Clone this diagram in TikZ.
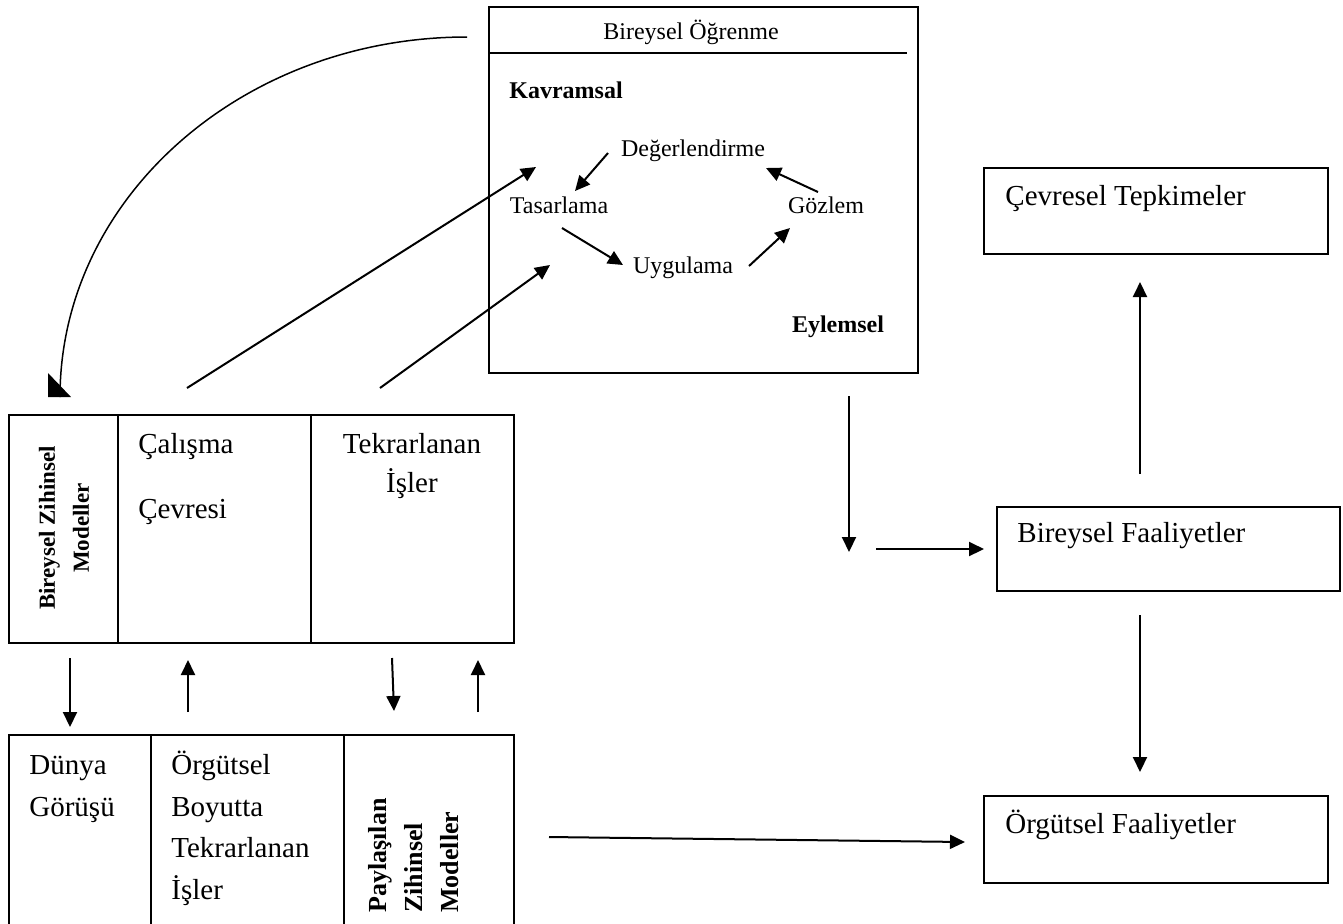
\documentclass[tikz,border=0pt]{standalone}
\usepackage{fontspec}
\setmainfont{Liberation Serif}
\usetikzlibrary{arrows.meta}
\begin{document}
\begin{tikzpicture}[x=0.5pt,y=-0.5pt,
  box/.style={draw,line width=1pt,inner sep=0pt,anchor=north west},
  big/.style={font=\fontsize{14.5}{18}\selectfont,inner sep=0pt},
  small/.style={font=\fontsize{12}{15}\selectfont,inner sep=0pt},
  bsmall/.style={font=\fontsize{12}{15}\selectfont\bfseries,inner sep=0pt},
  arr/.style={line width=1pt,-{Triangle[length=7.5pt,width=7pt]}},
]
\useasboundingbox (0,0) rectangle (1343,923);

% ---------- Bireysel Ogrenme box ----------
\node[box,minimum width=214.5pt,minimum height=183pt] (learn) at (488,6) {};
\coordinate (divL) at (488,53);
\coordinate (divR) at (907,53);
\draw[line width=1pt] (divL) -- (divR);
\node[small,anchor=base] (title) at (691,39) {Bireysel Öğrenme};
\node[bsmall,anchor=base west] (kav) at (509,98) {Kavramsal};
\node[small,anchor=base] (deg) at (693,156) {Değerlendirme};
\node[small,anchor=base] (tas) at (559,213) {Tasarlama};
\node[small,anchor=base] (goz) at (826,213) {Gözlem};
\node[small,anchor=base] (uyg) at (683,273) {Uygulama};
\node[bsmall,anchor=base] (eyl) at (838,332) {Eylemsel};

\coordinate (dt1) at (608,153); \coordinate (dt2) at (575,191);
\coordinate (tu1) at (562,228); \coordinate (tu2) at (623,265);
\coordinate (ug1) at (749,266); \coordinate (ug2) at (790,228);
\coordinate (gd1) at (818,192); \coordinate (gd2) at (766,168);
\draw[arr] (dt1) -- (dt2);
\draw[arr] (tu1) -- (tu2);
\draw[arr] (ug1) -- (ug2);
\draw[arr] (gd1) -- (gd2);

% ---------- upper left box ----------
\node[box,minimum width=54.5pt,minimum height=114pt] (bzm) at (8,414) {};
\node[box,minimum width=96.5pt,minimum height=114pt] (calc) at (117,414) {};
\node[box,minimum width=101.5pt,minimum height=114pt] (tekr) at (310,414) {};
\node[font=\fontsize{11.5}{17}\selectfont\bfseries,inner sep=0pt,rotate=90,align=center] (bzmt) at (64,528) {Bireysel Zihinsel\\Modeller};
\node[big,anchor=base west] (cal1) at (138,453) {Çalışma};
\node[big,anchor=base west] (cal2) at (138,518) {Çevresi};
\node[big,anchor=base] (tek1) at (412,453) {Tekrarlanan};
\node[big,anchor=base] (tek2) at (412,492) {İşler};

% ---------- lower left box ----------
\node[box,minimum width=71pt,minimum height=103pt] (dun) at (8,734) {};
\node[box,minimum width=96.5pt,minimum height=103pt] (org) at (150,734) {};
\node[box,minimum width=85pt,minimum height=103pt] (pay) at (343,734) {};
\node[big,anchor=base west] (dun1) at (29,774) {Dünya};
\node[big,anchor=base west] (dun2) at (29,816) {Görüşü};
\node[big,anchor=base west] (org1) at (171,774) {Örgütsel};
\node[big,anchor=base west] (org2) at (171,816) {Boyutta};
\node[big,anchor=base west] (org3) at (171,857) {Tekrarlanan};
\node[big,anchor=base west] (org4) at (171,899) {İşler};
\node[font=\fontsize{13}{18}\selectfont\bfseries,inner sep=0pt,rotate=90,align=left,anchor=west] (payt) at (414,913) {Paylaşılan\\Zihinsel\\Modeller};

% ---------- right boxes ----------
\node[box,minimum width=172pt,minimum height=43pt] (cev) at (983,167) {};
\node[big,anchor=base west] (cevt) at (1005,205) {Çevresel Tepkimeler};
\node[box,minimum width=171.5pt,minimum height=42pt] (bf) at (996,506) {};
\node[big,anchor=base west] (bft) at (1017,542) {Bireysel Faaliyetler};
\node[box,minimum width=172pt,minimum height=43.5pt] (of) at (983,795) {};
\node[big,anchor=base west] (oft) at (1005,833) {Örgütsel Faaliyetler};

% ---------- connectors ----------
\coordinate (c0) at (467,37);
\draw[line width=0.75pt] (c0) arc[start angle=-90,end angle=-180,x radius=407,y radius=360];
\coordinate (h1) at (48,373); \coordinate (h2) at (48,397); \coordinate (h3) at (71,397);
\fill (h1) -- (h2) -- (h3) -- cycle;

\coordinate (d1a) at (187,388); \coordinate (d1b) at (536,167);
\coordinate (d2a) at (380,388); \coordinate (d2b) at (550,265);
\draw[arr] (d1a) -- (d1b);
\draw[arr] (d2a) -- (d2b);

\coordinate (v1a) at (70,658);  \coordinate (v1b) at (70,727);
\coordinate (v2a) at (188,712); \coordinate (v2b) at (188,660);
\coordinate (v3a) at (392,658); \coordinate (v3b) at (394,711);
\coordinate (v4a) at (478,712); \coordinate (v4b) at (478,660);
\draw[arr] (v1a) -- (v1b);
\draw[arr] (v2a) -- (v2b);
\draw[arr] (v3a) -- (v3b);
\draw[arr] (v4a) -- (v4b);

\coordinate (r1a) at (849,396); \coordinate (r1b) at (849,552);
\coordinate (r2a) at (876,549); \coordinate (r2b) at (984,549);
\coordinate (r3a) at (1140,474); \coordinate (r3b) at (1140,282);
\coordinate (r4a) at (1140,615); \coordinate (r4b) at (1140,772);
\coordinate (r5a) at (549,837); \coordinate (r5b) at (965,842);
\draw[arr] (r1a) -- (r1b);
\draw[arr] (r2a) -- (r2b);
\draw[arr] (r3a) -- (r3b);
\draw[arr] (r4a) -- (r4b);
\draw[arr] (r5a) -- (r5b);
\end{tikzpicture}
\end{document}
